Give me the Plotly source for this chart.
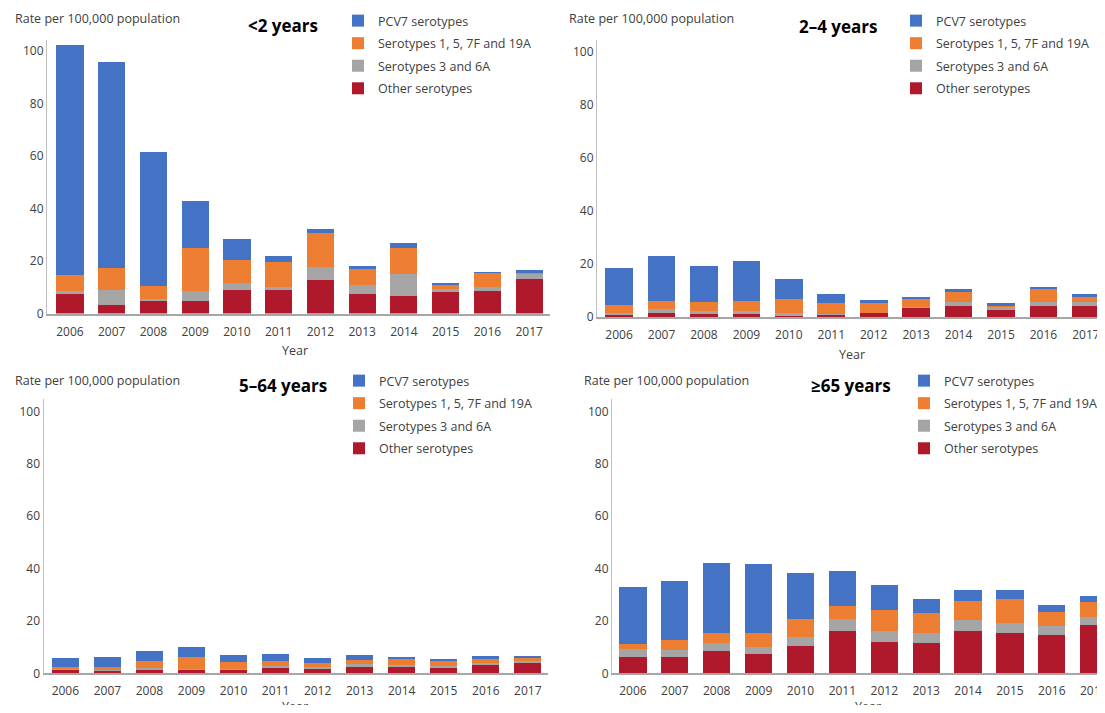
import plotly.graph_objects as go

years = [str(y) for y in range(2006, 2018)]
series_names = ["Other serotypes", "Serotypes 3 and 6A", "Serotypes 1, 5, 7F and 19A", "PCV7 serotypes"]
series_colors = ["#B0192C", "#A5A5A5", "#ED7D31", "#4472C4"]
series_legend_rank = [4, 3, 2, 1]

# <2 years
lt2_other = [7.6, 3.4, 5.3, 4.7, 8.8, 9.4, 12.9, 7.4, 6.8, 8.5, 8.5, 13.2]
lt2_s3_6a = [0.9, 5.6, 0.3, 3.8, 2.8, 0.7, 4.8, 3.3, 8.2, 0.7, 1.6, 2.1]
lt2_s1_5_7f_19a = [6.0, 8.3, 4.7, 16.5, 8.7, 9.5, 12.9, 6.8, 10.1, 1.6, 5.8, 0.3]
lt2_pcv7 = [87.7, 78.4, 51.2, 17.8, 7.9, 2.3, 1.6, 0.6, 1.7, 0.8, 0.1, 0.9]

# 2-4 years
y2_4_other = [1.3, 1.6, 1.1, 1.6, 0.8, 1.0, 1.5, 3.6, 4.2, 2.6, 4.2, 4.2]
y2_4_s3_6a = [0.3, 1.3, 1.0, 0.5, 0.7, 0.1, 0.0, 0.1, 1.6, 1.6, 1.6, 1.3]
y2_4_s1_5_7f_19a = [3.0, 3.0, 3.4, 3.9, 5.4, 4.2, 3.7, 3.6, 3.6, 0.3, 4.8, 2.0]
y2_4_pcv7 = [13.9, 17.2, 13.9, 15.3, 7.6, 3.5, 1.1, 0.1, 1.2, 0.7, 0.8, 1.2]

# 5-64 years
y5_64_other = [1.3, 1.1, 1.5, 1.3, 1.5, 2.2, 1.9, 2.3, 2.3, 2.2, 3.4, 4.1]
y5_64_s3_6a = [0.2, 0.3, 0.7, 0.4, 0.3, 0.7, 0.4, 1.4, 0.8, 0.7, 0.7, 0.6]
y5_64_s1_5_7f_19a = [1.0, 1.1, 2.6, 4.4, 2.7, 1.9, 1.5, 1.4, 2.3, 1.9, 1.5, 1.0]
y5_64_pcv7 = [3.5, 3.9, 3.7, 4.0, 2.4, 2.6, 2.2, 1.8, 0.6, 0.8, 0.9, 0.8]

# >=65 years
ge65_other = [6.2, 6.2, 8.7, 7.4, 10.6, 16.1, 12.0, 11.7, 16.1, 15.4, 14.8, 18.3]
ge65_s3_6a = [3.0, 2.6, 2.8, 2.8, 3.4, 4.8, 4.2, 3.6, 4.3, 3.8, 3.2, 3.1]
ge65_s1_5_7f_19a = [2.1, 3.8, 3.9, 5.2, 6.6, 4.8, 7.9, 7.8, 7.2, 9.3, 5.4, 6.0]
ge65_pcv7 = [21.6, 22.8, 26.9, 26.5, 17.7, 13.5, 9.5, 5.4, 4.2, 3.3, 2.6, 2.0]

panel_titles = ["<2 years", "2\u20134 years", "5\u201364 years", "\u226565 years"]
y_title = "Rate per 100,000 population"
x_title = "Year"
y_ticks = [0, 20, 40, 60, 80, 100]

# page is 1105x713; the html body keeps an 8px margin, so the figure is offset
W, H = 1105, 713
OFF = 8
FW, FH = W - OFF, H - 2 * OFF
FONT = "Open Sans"

def fx(px):
    return (px - OFF) / FW

def fy(py):
    return 1 - (py - OFF) / FH

panels = [
    dict(data=[lt2_other, lt2_s3_6a, lt2_s1_5_7f_19a, lt2_pcv7],
         xd=(47, 550), yd=(313.5, 39.5), xr=(-0.55, 11.5), ytop=104.4,
         yt=(13, 19), tt=(283, 25), xt=(295, 350), lg=(338, 6)),
    dict(data=[y2_4_other, y2_4_s3_6a, y2_4_s1_5_7f_19a, y2_4_pcv7],
         xd=(597, 1105), yd=(317, 39.5), xr=(-0.52, 11.45), ytop=104.7,
         yt=(567, 19), tt=(838, 26), xt=(852, 355), lg=(896, 6)),
    dict(data=[y5_64_other, y5_64_s3_6a, y5_64_s1_5_7f_19a, y5_64_pcv7],
         xd=(43.5, 548), yd=(673.3, 399.3), xr=(-0.52, 11.48), ytop=104.7,
         yt=(13, 380), tt=(283, 385), xt=(295, 706), lg=(339, 366)),
    dict(data=[ge65_other, ge65_s3_6a, ge65_s1_5_7f_19a, ge65_pcv7],
         xd=(612, 1105), yd=(673.3, 399.3), xr=(-0.5, 11.27), ytop=104.7,
         yt=(582, 380), tt=(851, 385), xt=(868, 706), lg=(904, 366)),
]

fig = go.Figure()
annotations = []
layout = {}
for i, p in enumerate(panels, start=1):
    sfx = "" if i == 1 else str(i)
    lname = "legend" if i == 1 else f"legend{i}"
    for name, color, rank, vals in zip(series_names, series_colors, series_legend_rank, p["data"]):
        fig.add_trace(go.Bar(
            x=years, y=vals, name=name, marker=dict(color=color, line=dict(width=0)),
            xaxis=f"x{sfx}", yaxis=f"y{sfx}", legend=lname, legendrank=rank,
            legendgroup=f"{lname}-{rank}",
        ))
    layout[f"xaxis{sfx}"] = dict(
        domain=[fx(p["xd"][0]), min(1.0, fx(p["xd"][1]))], anchor=f"y{sfx}", automargin=False,
        type="category", range=list(p["xr"]), showgrid=False, zeroline=False,
        showline=True, linecolor="#A6A6A6", linewidth=1.5, ticks="", ticklabelstandoff=6,
        ticklabeloverflow="allow",
        tickfont=dict(family=FONT, size=12, color="#404040"),
    )
    layout[f"yaxis{sfx}"] = dict(
        domain=[fy(p["yd"][0]), fy(p["yd"][1])], anchor=f"x{sfx}", automargin=False,
        range=[0, p["ytop"]], tickvals=y_ticks, showgrid=False, zeroline=False,
        showline=True, linecolor="#BFBFBF", linewidth=1, ticks="",
        tickfont=dict(family=FONT, size=12, color="#404040"),
    )
    layout[lname] = dict(
        x=fx(p["lg"][0]), y=fy(p["lg"][1]), xanchor="left", yanchor="top",
        xref="paper", yref="paper", traceorder="grouped", tracegroupgap=3.3,
        bgcolor="rgba(0,0,0,0)",
        font=dict(family=FONT, size=12.5, color="#404040"),
    )
    annotations.append(dict(text=y_title, x=fx(p["yt"][0]), y=fy(p["yt"][1]),
                            xref="paper", yref="paper", xanchor="left", yanchor="middle",
                            showarrow=False, font=dict(family=FONT, size=12.5, color="#404040")))
    annotations.append(dict(text=f"<b>{panel_titles[i-1]}</b>", x=fx(p["tt"][0]), y=fy(p["tt"][1]),
                            xref="paper", yref="paper", xanchor="center", yanchor="middle",
                            showarrow=False, font=dict(family=FONT, size=17, color="#000000")))
    annotations.append(dict(text=x_title, x=fx(p["xt"][0]), y=fy(p["xt"][1]),
                            xref="paper", yref="paper", xanchor="center", yanchor="middle",
                            showarrow=False, font=dict(family=FONT, size=12.5, color="#404040")))

fig.update_layout(
    template="none",
    width=FW, height=FH, margin=dict(l=0, r=0, t=0, b=0, pad=0, autoexpand=False),
    paper_bgcolor="white", plot_bgcolor="white",
    barmode="stack", bargap=0.35, showlegend=True,
    annotations=annotations, **layout,
)
fig.write_html("out.html")
